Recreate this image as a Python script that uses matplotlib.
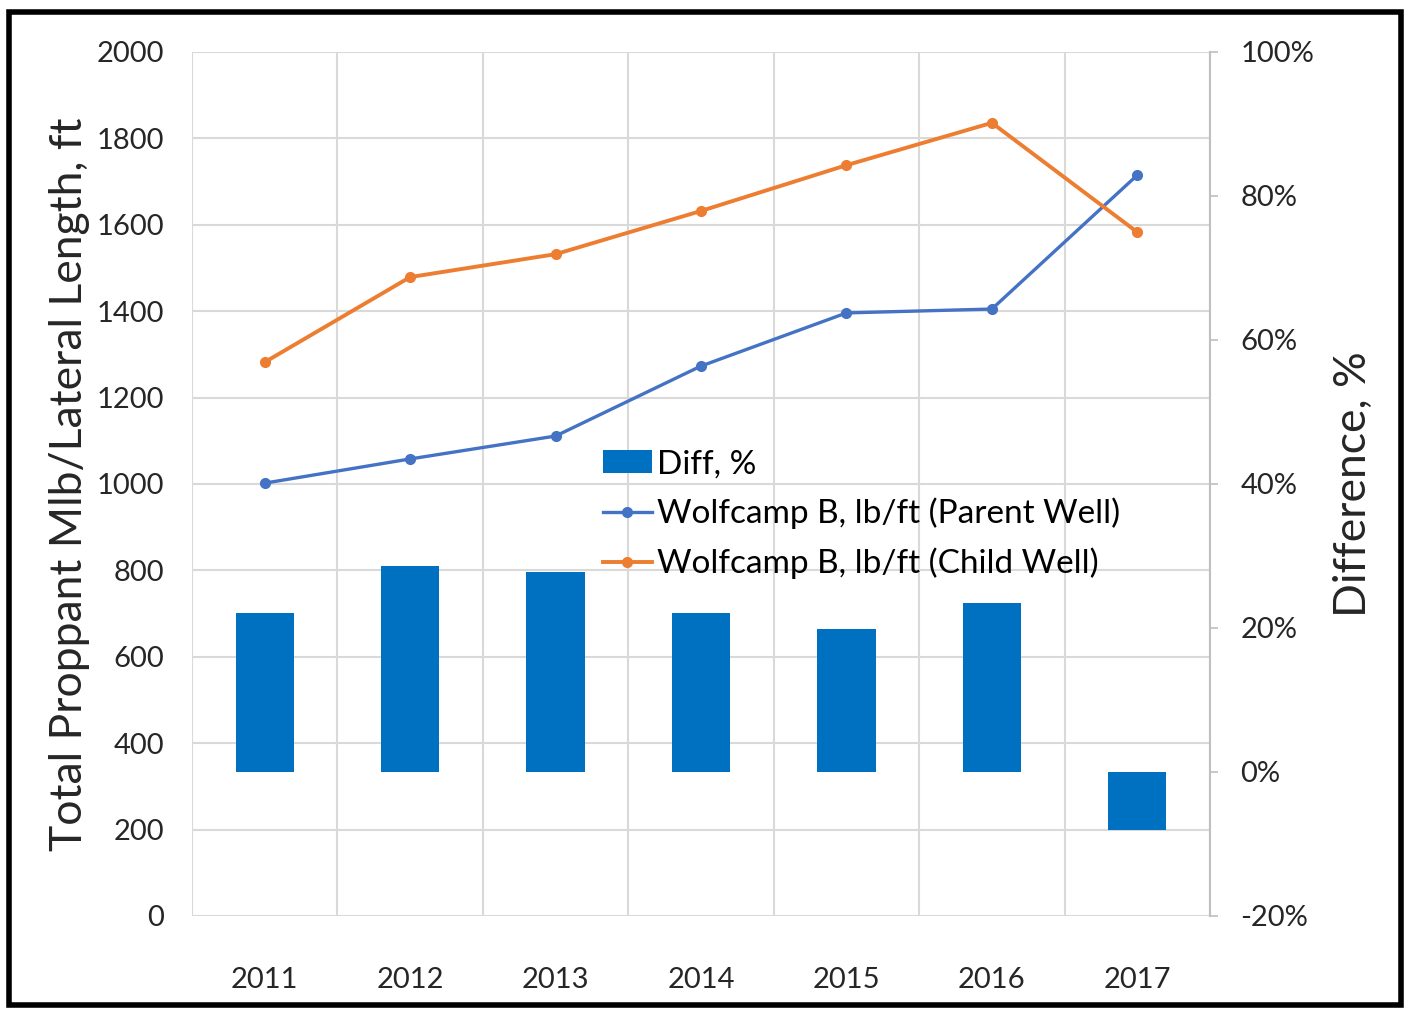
import matplotlib
matplotlib.use("Agg")
import matplotlib.pyplot as plt
import numpy as np
from matplotlib.patches import Rectangle

# data
years = ["2011", "2012", "2013", "2014", "2015", "2016", "2017"]
diff_pct = [22.1, 28.6, 27.8, 22.1, 19.9, 23.5, -8.1]
parent_lbft = [1002, 1058, 1111, 1273, 1396, 1405, 1715]
child_lbft = [1282, 1479, 1532, 1632, 1738, 1836, 1583]

left_ticks = list(range(0, 2001, 200))
right_ticks = [-20, 0, 20, 40, 60, 80, 100]

plt.rcParams["font.family"] = ["Lato", "DejaVu Sans"]

fig = plt.figure(figsize=(14.09, 10.09), dpi=100)
ax = fig.add_axes([192 / 1409, 1 - 916 / 1009, (1210 - 192) / 1409, (916 - 52) / 1009])
ax2 = ax.twinx()

x = np.arange(len(years))
grid_c = "#d9d9d9"
text_c = "#262626"

# bars on the secondary axis
bars = ax2.bar(x, diff_pct, width=0.4, color="#0070C0", label="Diff, %", zorder=2)
ax2.set_ylim(-20, 100)
ax2.set_yticks(right_ticks)
ax2.set_yticklabels([f"{v}%" for v in right_ticks])
ax2.set_ylabel("Difference, %", fontsize=32, color=text_c)
ax2.yaxis.set_label_coords(1.121, 0.5)

# lines on the primary axis
ax.set_zorder(ax2.get_zorder() + 1)
ax.patch.set_visible(False)
p_line, = ax.plot(x, parent_lbft, "o-", color="#4472C4", lw=2.4, markersize=7,
                  label="Wolfcamp B, lb/ft (Parent Well)")
c_line, = ax.plot(x, child_lbft, "o-", color="#ED7D31", lw=2.8, markersize=7,
                  label="Wolfcamp B, lb/ft (Child Well)")
ax.set_ylim(0, 2000)
ax.set_yticks(left_ticks)
ax.set_xlim(-0.5, len(years) - 0.5)
ax.set_xticks(x)
ax.set_xticklabels(years)
ax.set_ylabel("Total Proppant Mlb/Lateral Length, ft", fontsize=32, color=text_c)
ax.yaxis.set_label_coords(-0.10, 0.5)

# grid: horizontal per 200, vertical at category boundaries
for v in left_ticks:
    ax2.axhline(-20 + v * 120 / 2000, color=grid_c, lw=1.5, zorder=0)
for b in np.arange(-0.5, len(years), 1.0):
    ax2.axvline(b, color=grid_c, lw=1.5, zorder=0)

ax.grid(False)
ax2.grid(False)
for a in (ax, ax2):
    for s in a.spines.values():
        s.set_visible(False)
ax2.spines["right"].set_visible(True)
ax2.spines["right"].set_color("#bfbfbf")
ax2.spines["right"].set_linewidth(1.5)

ax.tick_params(axis="y", length=0, labelsize=21, pad=20, labelcolor=text_c)
ax.tick_params(axis="x", length=0, labelsize=21, pad=37, labelcolor=text_c)
ax2.tick_params(axis="y", length=6, width=1.2, color="#bfbfbf", labelsize=21,
                pad=16, labelcolor=text_c)

leg = ax.legend(handles=[bars, p_line, c_line], loc="upper left",
                bbox_to_anchor=(0.404, 0.54), frameon=False, fontsize=24,
                handlelength=1.45, handletextpad=0.15, labelspacing=0.55,
                borderaxespad=0, borderpad=0)
leg.set_zorder(5)

# black frame around the whole picture
fig.patches.append(Rectangle((9 / 1409, 4 / 1009), 1392 / 1409, 993 / 1009,
                             transform=fig.transFigure, fill=False,
                             edgecolor="black", lw=4))

fig.savefig("out.png", dpi=100)
